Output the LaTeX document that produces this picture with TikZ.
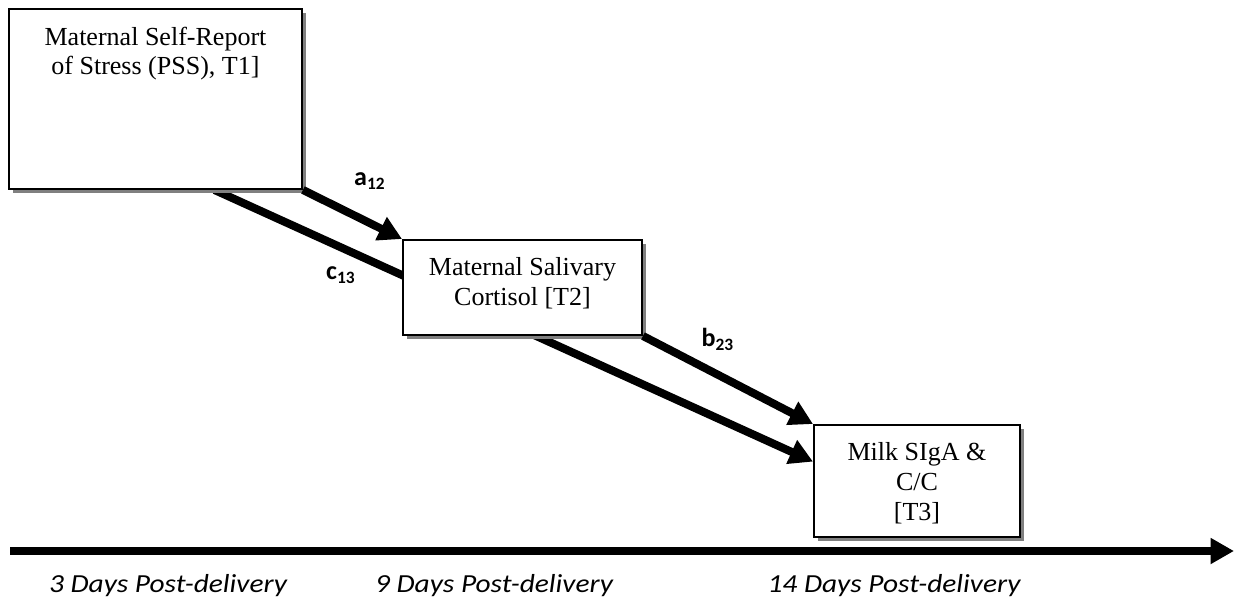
\documentclass[tikz,border=0pt]{standalone}
\usepackage{fontspec}
\setmainfont{Liberation Serif}
\newfontfamily\calibri{Carlito}
\usepackage{tikz}
\usetikzlibrary{calc}
\usetikzlibrary{positioning}
\usetikzlibrary{arrows.meta}
\usetikzlibrary{shadows}
\usetikzlibrary{backgrounds}

\newcommand{\pxu}{0.0162cm}
\newcommand{\widetext}[1]{\scalebox{1.13}[1]{#1}}

\begin{document}
\begin{tikzpicture}[
    x = 0.0162cm,
    y = -0.0162cm,
    font = \fontsize{12}{13.8}\selectfont,
    boxf/.style = {
      rectangle,
      draw=black,
      line width=0.9pt,
      fill=white,
      inner sep=0pt,
      drop shadow={shadow xshift=0.07cm, shadow yshift=-0.07cm, fill=black!50, opacity=1}
    },
    boxtext/.style = {
      anchor=north,
      align=center,
      inner sep=0pt,
      yshift=-8.4pt
    },
    patharrow/.style = {
      line width=3.7pt,
      -{Triangle[length=0.38cm, width=0.4cm]}
    },
    pathlabel/.style = {
      font=\calibri\bfseries\fontsize{12}{14}\selectfont
    },
    daylabel/.style = {
      font=\calibri\itshape\fontsize{12}{14}\selectfont,
      anchor=base
    }
  ]
    \useasboundingbox (0,0) rectangle (1239,603);

    % the three measures
    \node (pss) [boxf, minimum width=293*\pxu, minimum height=180*\pxu] at (155.5,99) {};
    \node (cort) [boxf, minimum width=239*\pxu, minimum height=95*\pxu] at (522.5,287.5) {};
    \node (milk) [boxf, minimum width=206*\pxu, minimum height=112*\pxu] at (917,481) {};

    \node (psstext) [boxtext] at (pss.north) {Maternal Self-Report\\of Stress (PSS), T1]};
    \node (corttext) [boxtext] at (cort.north) {Maternal Salivary\\Cortisol [T2]};
    \node (milktext) [boxtext] at (milk.north) {Milk SIgA \&\\C/C\\{[T3]}};

    % paths
    \draw[patharrow] (pss.south east) -- (cort.north west);
    \draw[patharrow] (cort.south east) -- (milk.north west);
    \begin{pgfonlayer}{background}
      \draw[patharrow] ($(pss.south west)!0.7!(pss.south east)$)
        -- ($(milk.north west)!0.33!(milk.south west)$);
    \end{pgfonlayer}

    \node (a) [pathlabel] at (370,181) {a\textsubscript{12}};
    \node (c) [pathlabel] at (341,275) {c\textsubscript{13}};
    \node (b) [pathlabel] at (718,339) {b\textsubscript{23}};

    % time line
    \coordinate (tstart) at (10,551);
    \coordinate (tend) at (1234,551);
    \draw[patharrow] (tstart) -- (tend);

    \node (t1) [daylabel] at (168,592) {\widetext{3 Days Post-delivery}};
    \node (t2) [daylabel] at (494,592) {\widetext{9 Days Post-delivery}};
    \node (t3) [daylabel] at (894,592) {\widetext{14 Days Post-delivery}};
  \end{tikzpicture}
\end{document}
